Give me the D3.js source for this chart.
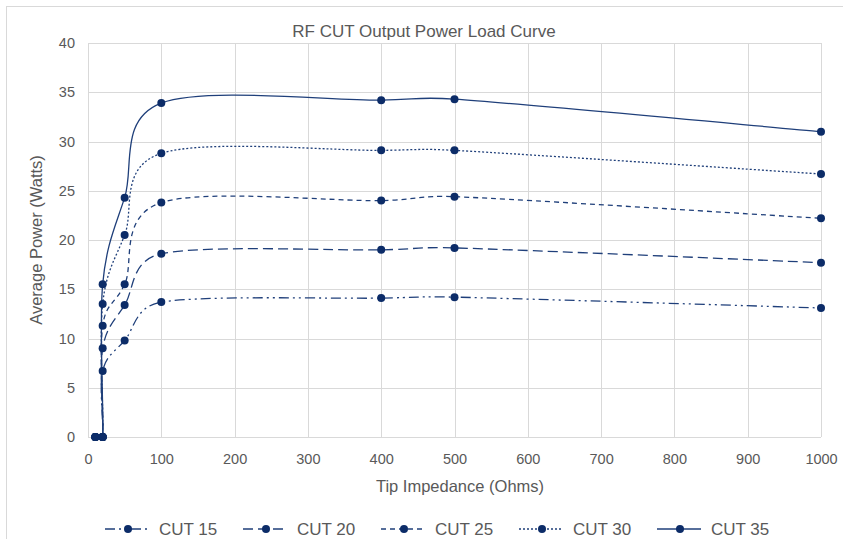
<!DOCTYPE html>
<html lang="en">
  <head>
    <meta charset="UTF-8" />
    <title>RF CUT Output Power Load Curve</title>
    <script src="https://d3js.org/d3.v7.min.js"></script>
    <style>
      body { margin: 0; background: #fff; }
      svg { display: block; font-family: "Liberation Sans", Arial, sans-serif; }
      .tick text { fill: #595959; font-size: 14.5px; }
    </style>
  </head>
  <body>
    <svg width="843" height="539"></svg>
    <script>
      // tip impedance (Ohms) - same x for every series
      const impedance = [10, 20, 20, 50, 100, 400, 500, 1000];
      // average power (Watts)
      const cut15 = [0, 0, 6.7, 9.8, 13.7, 14.1, 14.2, 13.1];
      const cut20 = [0, 0, 9.0, 13.4, 18.6, 19.0, 19.2, 17.7];
      const cut25 = [0, 0, 11.3, 15.5, 23.8, 24.0, 24.4, 22.2];
      const cut30 = [0, 0, 13.5, 20.5, 28.8, 29.1, 29.1, 26.7];
      const cut35 = [0, 0, 15.5, 24.3, 33.9, 34.2, 34.3, 31.0];
      const seriesNames = ["CUT 15", "CUT 20", "CUT 25", "CUT 30", "CUT 35"];
      const xTicks = d3.range(0, 1001, 100);
      const yTicks = d3.range(0, 41, 5);

      const series = [cut15, cut20, cut25, cut30, cut35].map((vals, i) => ({
        name: seriesNames[i],
        points: vals.map((v, j) => [impedance[j], v])
      }));
      const dashes = ["10,4,2,4,2,4", "10,5", "5,4", "2,2", null];

      const svg = d3.select("svg");
      const margin = { left: 88, right: 22, top: 43, bottom: 102 };
      const W = 843, H = 539;

      const x = d3.scaleLinear().domain([0, 1000]).range([margin.left, W - margin.right]);
      const y = d3.scaleLinear().domain([0, 40]).range([H - margin.bottom, margin.top]);

      const grid = "#d9d9d9";
      const lineColor = "#1f3f7a";
      const markColor = "#0c2c68";

      // outer chart frame (cut off on right/bottom)
      svg.append("rect")
        .attr("x", 6.5).attr("y", 6.5)
        .attr("width", W).attr("height", H)
        .attr("fill", "none").attr("stroke", grid);

      // gridlines
      svg.append("g")
        .selectAll("line")
        .data(yTicks)
        .join("line")
        .attr("x1", x(0)).attr("x2", x(1000))
        .attr("y1", d => Math.round(y(d)) + 0.5).attr("y2", d => Math.round(y(d)) + 0.5)
        .attr("stroke", grid);
      svg.append("g")
        .selectAll("line")
        .data(xTicks)
        .join("line")
        .attr("y1", y(0)).attr("y2", y(40))
        .attr("x1", d => Math.round(x(d)) + 0.5).attr("x2", d => Math.round(x(d)) + 0.5)
        .attr("stroke", grid);

      // axes (labels only)
      const xAxis = svg.append("g")
        .attr("transform", `translate(0,${y(0)})`)
        .call(d3.axisBottom(x).tickValues(xTicks).tickFormat(d3.format("d")).tickSize(0).tickPadding(17));
      xAxis.select(".domain").remove();
      const yAxis = svg.append("g")
        .attr("transform", `translate(${x(0)},0)`)
        .call(d3.axisLeft(y).tickValues(yTicks).tickSize(0).tickPadding(13));
      yAxis.select(".domain").remove();

      // titles
      svg.append("text")
        .attr("x", 424).attr("y", 37)
        .attr("text-anchor", "middle")
        .attr("fill", "#595959").attr("font-size", 17)
        .text("RF CUT Output Power Load Curve");
      svg.append("text")
        .attr("x", 460).attr("y", 492)
        .attr("text-anchor", "middle")
        .attr("fill", "#595959").attr("font-size", 16.5)
        .text("Tip Impedance (Ohms)");
      svg.append("text")
        .attr("transform", `translate(42,${(y(0) + y(40)) / 2}) rotate(-90)`)
        .attr("text-anchor", "middle")
        .attr("fill", "#595959").attr("font-size", 16.5)
        .text("Average Power (Watts)");

      // Excel-style smoothing: Bezier with 1/6 tangents, capped at half the segment
      function smoothPath(data) {
        const pts = data.map(d => [x(d[0]), y(d[1])]);
        const dist = (a, b) => Math.hypot(b[0] - a[0], b[1] - a[1]);
        const p = d3.path();
        p.moveTo(pts[0][0], pts[0][1]);
        for (let i = 0; i < pts.length - 1; i++) {
          const p0 = pts[i - 1] || pts[i], p1 = pts[i], p2 = pts[i + 1], p3 = pts[i + 2] || pts[i + 1];
          const d12 = dist(p1, p2), d02 = dist(p0, p2), d13 = dist(p1, p3);
          const f1 = d02 > 0 ? Math.min(1 / 6, d12 / (2 * d02)) : 0;
          const f2 = d13 > 0 ? Math.min(1 / 6, d12 / (2 * d13)) : 0;
          p.bezierCurveTo(
            p1[0] + f1 * (p2[0] - p0[0]), p1[1] + f1 * (p2[1] - p0[1]),
            p2[0] - f2 * (p3[0] - p1[0]), p2[1] - f2 * (p3[1] - p1[1]),
            p2[0], p2[1]
          );
        }
        return p.toString();
      }

      const g = svg.append("g");
      series.forEach((s, i) => {
        g.append("path")
          .attr("d", smoothPath(s.points))
          .attr("fill", "none")
          .attr("stroke", lineColor)
          .attr("stroke-width", 1.3)
          .attr("stroke-dasharray", dashes[i]);
      });
      series.forEach(s => {
        g.append("g")
          .selectAll("circle")
          .data(s.points)
          .join("circle")
          .attr("cx", d => x(d[0]))
          .attr("cy", d => y(d[1]))
          .attr("r", 4)
          .attr("fill", markColor);
      });

      // legend
      const legend = svg.append("g").attr("transform", "translate(105,529)");
      const item = legend.selectAll("g")
        .data(series)
        .join("g")
        .attr("transform", (d, i) => `translate(${i * 138},0)`);
      item.append("line")
        .attr("x1", 0).attr("x2", 44)
        .attr("stroke", lineColor).attr("stroke-width", 1.3)
        .attr("stroke-dasharray", (d, i) => dashes[i]);
      item.append("circle")
        .attr("cx", 23).attr("r", 4).attr("fill", markColor);
      item.append("text")
        .attr("x", 54).attr("y", 6)
        .attr("fill", "#595959").attr("font-size", 17)
        .text(d => d.name);
    </script>
  </body>
</html>
